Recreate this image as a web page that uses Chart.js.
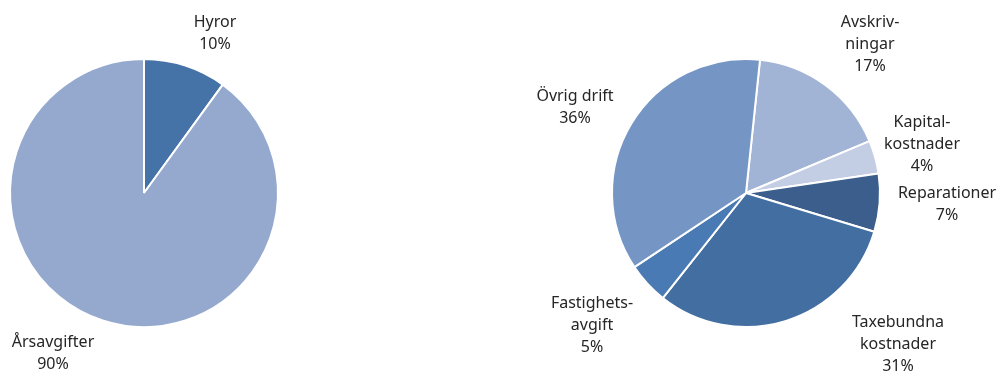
<!DOCTYPE html>
<html>
<head>
<meta charset="utf-8">
<script src="https://cdn.jsdelivr.net/npm/chart.js@4"></script>
<style>
  body { margin: 0; background: #fff; }
  .wrap { position: absolute; top: 0; height: 372px; }
</style>
</head>
<body>
<div class="wrap" style="left:0;width:500px"><canvas id="pie-left"></canvas></div>
<div class="wrap" style="left:500px;width:501px"><canvas id="pie-right"></canvas></div>
<script>
// Left pie: income
const leftLabels = [['Hyror'], ['Årsavgifter']];
const leftValues = [10, 90];
const leftColors = ['#4673a7', '#95a9cf'];

// Right pie: costs
const rightLabels = [['Avskriv-', 'ningar'], ['Kapital-', 'kostnader'], ['Reparationer'],
                     ['Taxebundna', 'kostnader'], ['Fastighets-', 'avgift'], ['Övrig drift']];
const rightValues = [17, 4, 7, 31, 5, 36];
const rightColors = ['#a2b4d5', '#c3cde3', '#3b5e8c', '#436ea1', '#4a7ab4', '#7596c5'];

// where the text blocks sit (center x, first line y), canvas-local
const leftTextPos = [[215, 22], [53, 342]];
const rightTextPos = [[370, 22], [422, 122], [447, 193], [398, 322], [92, 303], [75, 96]];

const fontFamily = '"Noto Sans", "Open Sans", sans-serif';

function labelPlugin(labels, values, positions) {
  return {
    id: 'sliceLabels',
    afterDraw(chart) {
      const ctx = chart.ctx;
      ctx.save();
      ctx.font = '16px ' + fontFamily;
      ctx.fillStyle = '#262626';
      ctx.textAlign = 'center';
      ctx.textBaseline = 'middle';
      labels.forEach((lines, i) => {
        const all = lines.concat([values[i] + '%']);
        const [x, y] = positions[i];
        all.forEach((t, j) => ctx.fillText(t, x, y + j * 22));
      });
      ctx.restore();
    }
  };
}

function makePie(id, labels, values, colors, positions, rotation, padding) {
  new Chart(document.getElementById(id), {
    type: 'pie',
    data: {
      labels: labels.map(l => l.join(' ')),
      datasets: [{
        data: values,
        backgroundColor: colors,
        borderColor: '#ffffff',
        borderWidth: 2
      }]
    },
    options: {
      responsive: true,
      maintainAspectRatio: false,
      animation: false,
      rotation: rotation,
      layout: { padding: padding },
      plugins: { legend: { display: false }, tooltip: { enabled: false } }
    },
    plugins: [labelPlugin(labels, values, positions)]
  });
}

makePie('pie-left', leftLabels, leftValues, leftColors, leftTextPos, 0,
  { left: 9, right: 221, top: 58, bottom: 44 });
makePie('pie-right', rightLabels, rightValues, rightColors, rightTextPos, 6,
  { left: 111, right: 120, top: 58, bottom: 44 });
</script>
</body>
</html>
